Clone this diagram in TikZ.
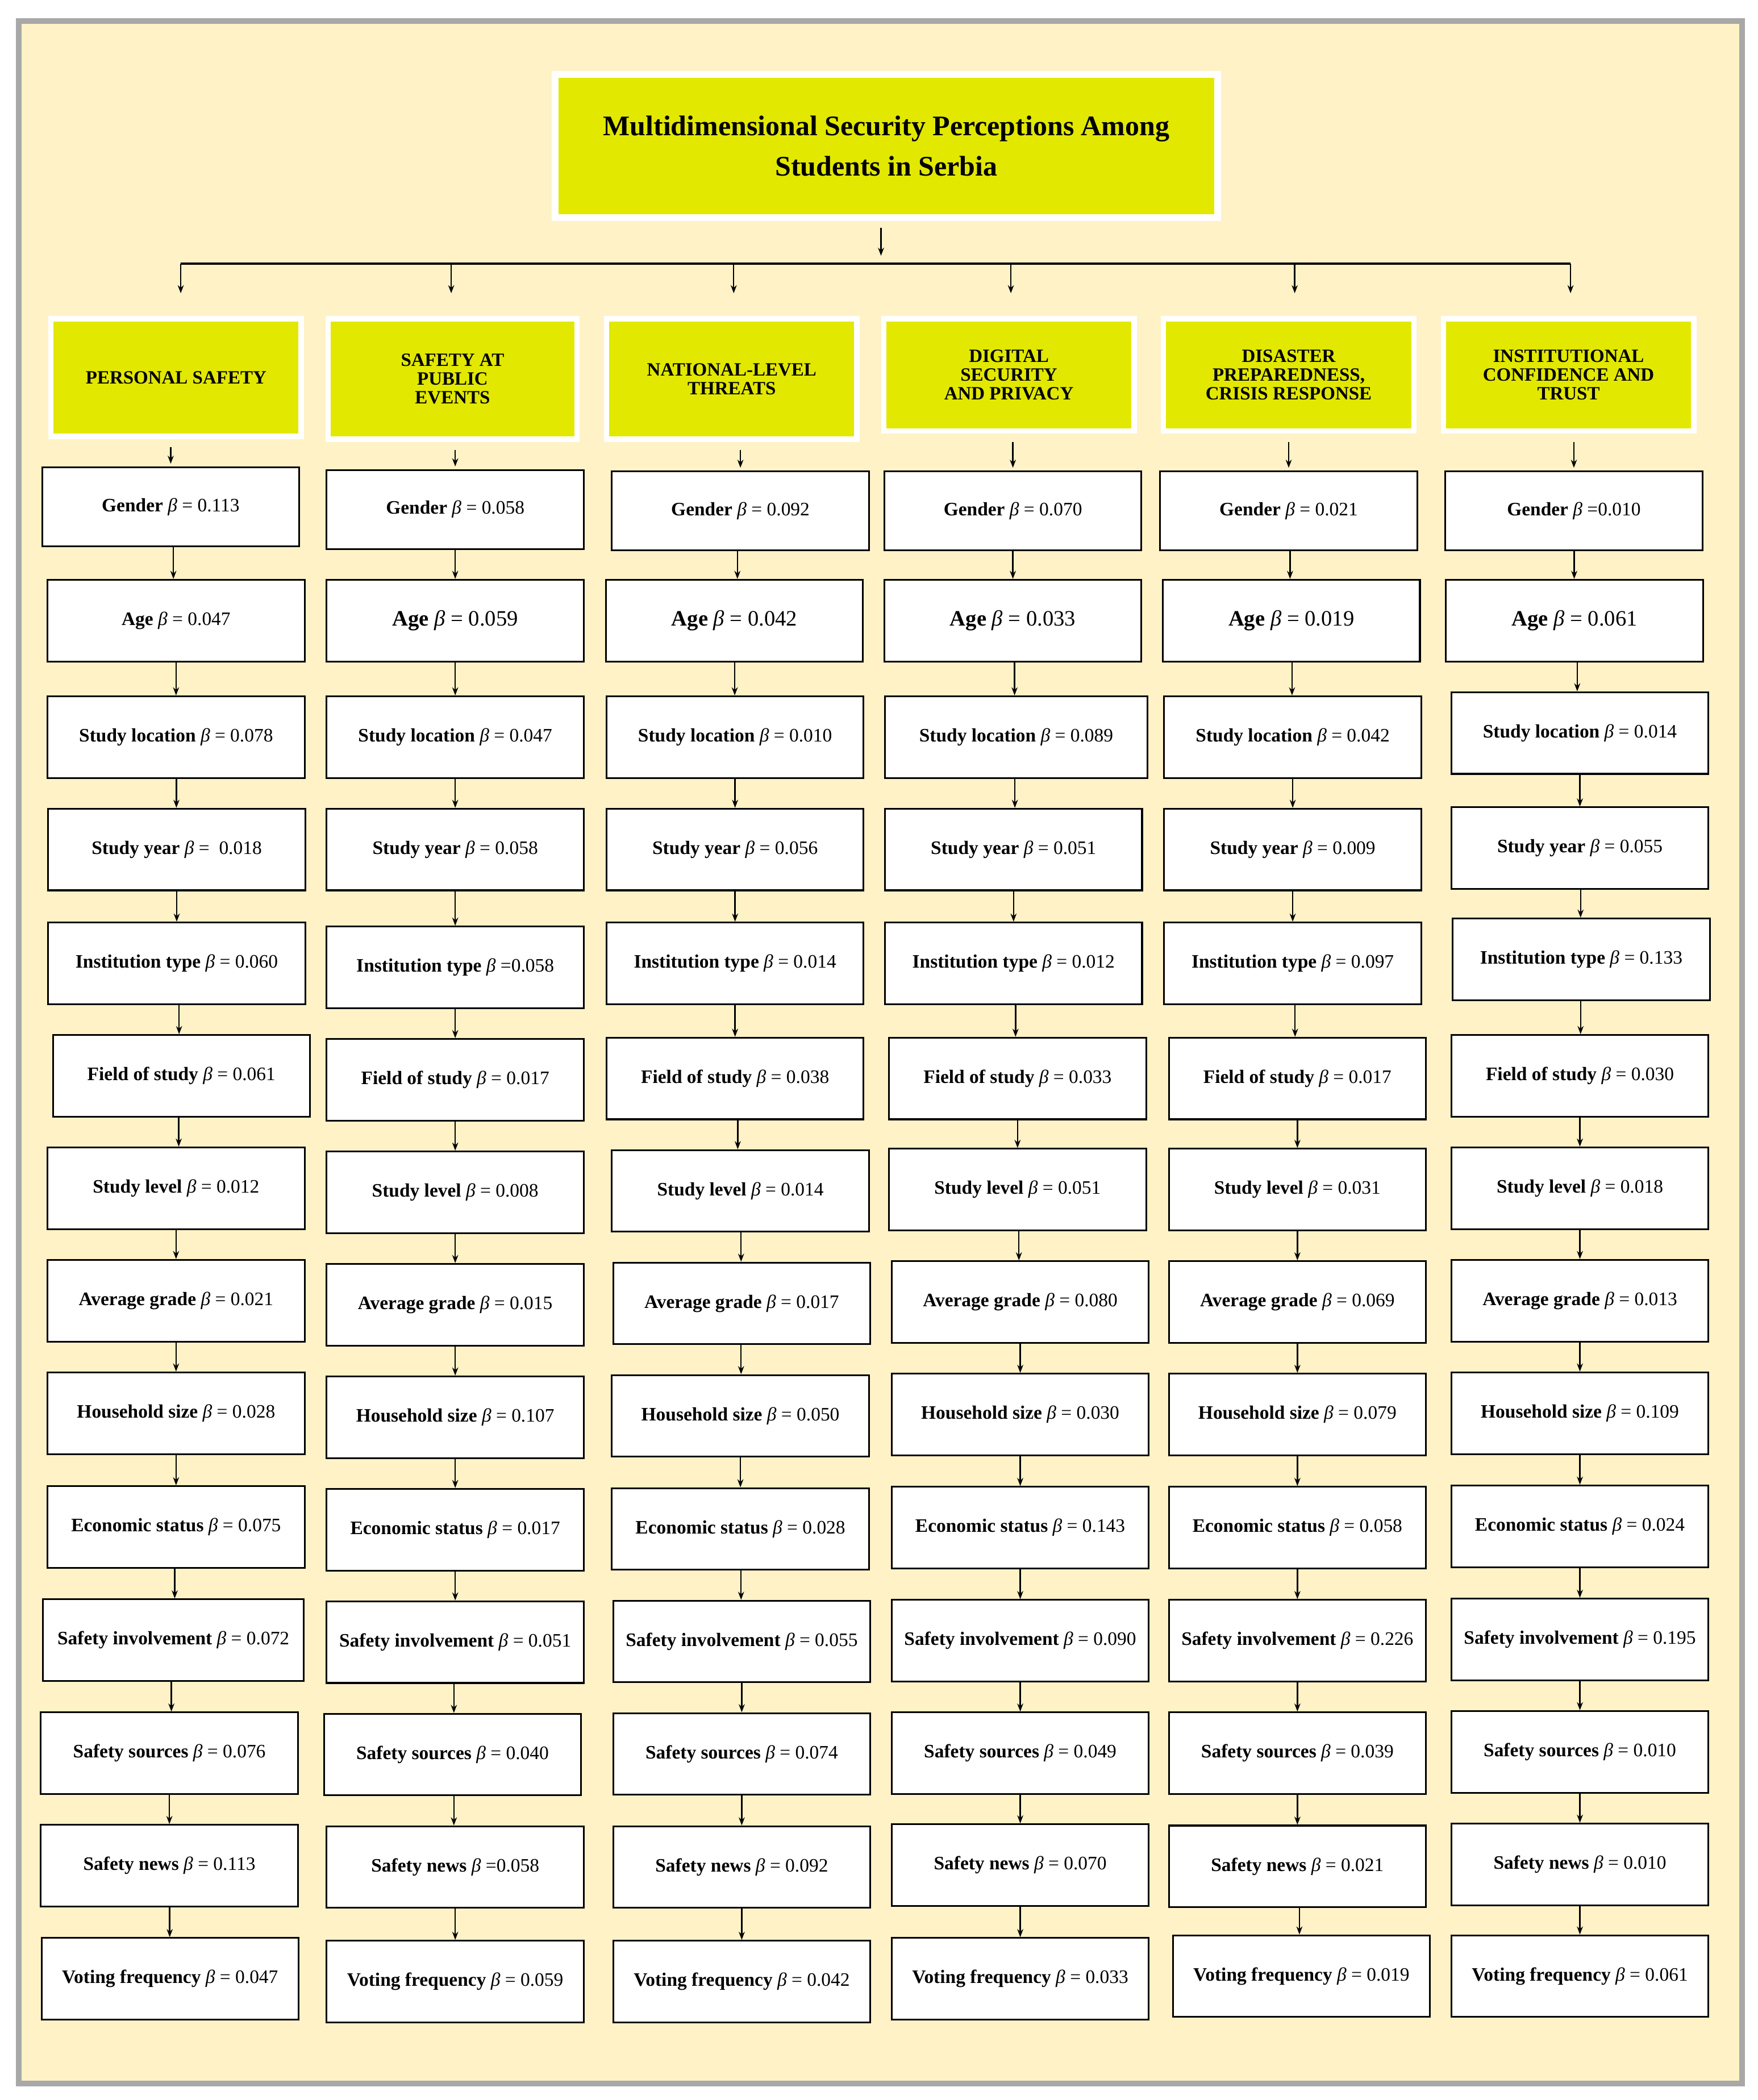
\documentclass[tikz,border=0pt]{standalone}
\usepackage{fontspec}
\setmainfont{Liberation Serif}
\usetikzlibrary{arrows.meta,calc}
\definecolor{cream}{RGB}{255,242,199}
\definecolor{yel}{RGB}{226,232,0}
\definecolor{framegray}{RGB}{168,168,168}
\newcommand\vnode[6][]{\node[valbox,#1] (#2) at (#3,#4) {\textbf{#5} \textit{β} #6};}
\begin{document}
\begin{tikzpicture}[x=1pt,y=-1pt,
  arr/.style={line width=1pt,-{Stealth[length=6pt,width=4.5pt]}},
  valbox/.style={draw=black,line width=1.3pt,fill=white,minimum width=192pt,minimum height=61pt,inner sep=0pt,font=\fontsize{14.2}{16}\selectfont},
  gen/.style={minimum height=59pt},
  bigage/.style={font=\fontsize{16.4}{18}\selectfont},
  hdrbox/.style={draw=white,line width=4pt,fill=yel,minimum width=187pt,align=center,inner sep=0pt,font=\bfseries\fontsize{14}{14}\selectfont},
  titlebox/.style={draw=white,line width=5pt,fill=yel,minimum width=495pt,minimum height=107pt,align=center,inner sep=0pt,font=\bfseries\fontsize{21.2}{30}\selectfont}
  ]
\useasboundingbox (0,0) rectangle (1313,1568.5);
\fill[white] (0,0) rectangle (1313,1568.5);
\draw[draw=framegray,line width=4.2pt,fill=cream] (14,15.7) rectangle (1301.2,1556.3);

% title
\node[titlebox] (title) at (662,109) {Multidimensional Security Perceptions Among\\Students in Serbia};

% headers
\node[hdrbox,minimum height=88pt] (h1) at (131.5,282) {PERSONAL SAFETY};
\node[hdrbox,minimum height=90pt,minimum width=186pt] (h2) at (338,283) {SAFETY AT\\PUBLIC\\EVENTS};
\node[hdrbox,minimum height=90pt] (h3) at (546.5,283) {NATIONAL-LEVEL\\THREATS};
\node[hdrbox,minimum height=84pt] (h4) at (753.5,280) {DIGITAL\\SECURITY\\AND PRIVACY};
\node[hdrbox,minimum height=84pt] (h5) at (962.5,280) {DISASTER\\PREPAREDNESS,\\CRISIS RESPONSE};
\node[hdrbox,minimum height=84pt] (h6) at (1171.5,280) {INSTITUTIONAL\\CONFIDENCE AND\\TRUST};

% column 1
\vnode[gen]{c1-1}{127.5}{378.5}{Gender}{= 0.113}
\vnode{c1-2}{131.5}{463.5}{Age}{= 0.047}
\vnode{c1-3}{131.5}{550.5}{Study location}{= 0.078}
\vnode{c1-4}{132}{634.5}{Study year}{=\ \ 0.018}
\vnode{c1-5}{132}{719.5}{Institution type}{= 0.060}
\vnode{c1-6}{135.5}{803.5}{Field of study}{= 0.061}
\vnode{c1-7}{131.5}{887.5}{Study level}{= 0.012}
\vnode{c1-8}{131.5}{971.5}{Average grade}{= 0.021}
\vnode{c1-9}{131.5}{1055.5}{Household size}{= 0.028}
\vnode{c1-10}{131.5}{1140.5}{Economic status}{= 0.075}
\vnode[minimum width=195pt]{c1-11}{129.5}{1225}{Safety involvement}{= 0.072}
\vnode{c1-12}{126.5}{1309.5}{Safety sources}{= 0.076}
\vnode{c1-13}{126.5}{1393.5}{Safety news}{= 0.113}
\vnode{c1-14}{127}{1478}{Voting frequency}{= 0.047}

% column 2
\vnode[gen]{c2-1}{340}{380.5}{Gender}{= 0.058}
\vnode[bigage]{c2-2}{340}{463.5}{Age}{= 0.059}
\vnode{c2-3}{340}{550.5}{Study location}{= 0.047}
\vnode{c2-4}{340}{634.5}{Study year}{= 0.058}
\vnode{c2-5}{340}{722.5}{Institution type}{=0.058}
\vnode{c2-6}{340}{806.5}{Field of study}{= 0.017}
\vnode{c2-7}{340}{890.5}{Study level}{= 0.008}
\vnode{c2-8}{340}{974.5}{Average grade}{= 0.015}
\vnode{c2-9}{340}{1058.5}{Household size}{= 0.107}
\vnode{c2-10}{340}{1142.5}{Economic status}{= 0.017}
\vnode{c2-11}{340}{1226.5}{Safety involvement}{= 0.051}
\vnode{c2-12}{338}{1310.5}{Safety sources}{= 0.040}
\vnode{c2-13}{340}{1394.5}{Safety news}{=0.058}
\vnode{c2-14}{340}{1480}{Voting frequency}{= 0.059}

% column 3
\vnode[gen]{c3-1}{553}{381.5}{Gender}{= 0.092}
\vnode[bigage]{c3-2}{548.5}{463.5}{Age}{= 0.042}
\vnode{c3-3}{549}{550.5}{Study location}{= 0.010}
\vnode{c3-4}{549}{634.5}{Study year}{= 0.056}
\vnode{c3-5}{549}{719.5}{Institution type}{= 0.014}
\vnode{c3-6}{549}{805.5}{Field of study}{= 0.038}
\vnode{c3-7}{553}{889.5}{Study level}{= 0.014}
\vnode{c3-8}{554}{973.5}{Average grade}{= 0.017}
\vnode{c3-9}{553}{1057.5}{Household size}{= 0.050}
\vnode{c3-10}{553}{1142}{Economic status}{= 0.028}
\vnode{c3-11}{554}{1226}{Safety involvement}{= 0.055}
\vnode{c3-12}{554}{1310}{Safety sources}{= 0.074}
\vnode{c3-13}{554}{1394.5}{Safety news}{= 0.092}
\vnode{c3-14}{554}{1480}{Voting frequency}{= 0.042}

% column 4
\vnode[gen]{c4-1}{756.5}{381.5}{Gender}{= 0.070}
\vnode[bigage]{c4-2}{756.5}{463.5}{Age}{= 0.033}
\vnode[minimum width=196pt]{c4-3}{759}{550.5}{Study location}{= 0.089}
\vnode{c4-4}{757}{634.5}{Study year}{= 0.051}
\vnode{c4-5}{757}{719.5}{Institution type}{= 0.012}
\vnode{c4-6}{760}{805.5}{Field of study}{= 0.033}
\vnode{c4-7}{760}{888.5}{Study level}{= 0.051}
\vnode{c4-8}{762}{972.5}{Average grade}{= 0.080}
\vnode{c4-9}{762}{1056.5}{Household size}{= 0.030}
\vnode{c4-10}{762}{1141}{Economic status}{= 0.143}
\vnode{c4-11}{762}{1225.5}{Safety involvement}{= 0.090}
\vnode{c4-12}{762}{1309.5}{Safety sources}{= 0.049}
\vnode{c4-13}{762}{1393}{Safety news}{= 0.070}
\vnode{c4-14}{762}{1478}{Voting frequency}{= 0.033}

% column 5
\vnode[gen]{c5-1}{962.5}{381.5}{Gender}{= 0.021}
\vnode[bigage]{c5-2}{964.5}{463.5}{Age}{= 0.019}
\vnode{c5-3}{965.5}{550.5}{Study location}{= 0.042}
\vnode{c5-4}{965.5}{634.5}{Study year}{= 0.009}
\vnode{c5-5}{965.5}{719.5}{Institution type}{= 0.097}
\vnode{c5-6}{969}{805.5}{Field of study}{= 0.017}
\vnode{c5-7}{969}{888.5}{Study level}{= 0.031}
\vnode{c5-8}{969}{972.5}{Average grade}{= 0.069}
\vnode{c5-9}{969}{1056.5}{Household size}{= 0.079}
\vnode{c5-10}{969}{1141}{Economic status}{= 0.058}
\vnode{c5-11}{969}{1225.5}{Safety involvement}{= 0.226}
\vnode{c5-12}{969}{1309.5}{Safety sources}{= 0.039}
\vnode{c5-13}{969}{1394}{Safety news}{= 0.021}
\vnode{c5-14}{972}{1476}{Voting frequency}{= 0.019}

% column 6
\vnode[gen]{c6-1}{1175.5}{381.5}{Gender}{=0.010}
\vnode[bigage]{c6-2}{1176}{463.5}{Age}{= 0.061}
\vnode{c6-3}{1180}{547.5}{Study location}{= 0.014}
\vnode{c6-4}{1180}{633.5}{Study year}{= 0.055}
\vnode{c6-5}{1181}{716.5}{Institution type}{= 0.133}
\vnode{c6-6}{1180}{803.5}{Field of study}{= 0.030}
\vnode{c6-7}{1180}{887.5}{Study level}{= 0.018}
\vnode{c6-8}{1180}{971.5}{Average grade}{= 0.013}
\vnode{c6-9}{1180}{1055.5}{Household size}{= 0.109}
\vnode{c6-10}{1180}{1140}{Economic status}{= 0.024}
\vnode{c6-11}{1180}{1224.5}{Safety involvement}{= 0.195}
\vnode{c6-12}{1180}{1308.5}{Safety sources}{= 0.010}
\vnode{c6-13}{1180}{1392.5}{Safety news}{= 0.010}
\vnode{c6-14}{1180}{1476}{Voting frequency}{= 0.061}

% title to bus
\coordinate (bt) at (658,191);
\coordinate (busL) at (135,197);
\coordinate (busR) at (1173,197);
\draw[arr] ([yshift=-5pt]title.south -| bt) -- (bt);
\draw[line width=1.5pt] (busL) -- (busR);
\foreach \i/\x in {1/135,2/337,3/548,4/755,5/967,6/1173}{
  \coordinate (d\i) at (\x,197);
  \draw[arr] (d\i) -- ([yshift=17pt]h\i.north -| d\i);
  \draw[arr] ([yshift=-6pt]h\i.south -| c\i-1.north) -- ([yshift=2pt]c\i-1.north);
}
% chains
\foreach \c in {1,...,6}{
  \foreach \r [evaluate=\r as \n using int(\r+1)] in {1,...,13}{
    \path ($(c\c-\r.south)!.5!(c\c-\n.north)$) coordinate (m);
    \draw[arr] (c\c-\r.south -| m) -- (c\c-\n.north -| m);
  }
}
\end{tikzpicture}
\end{document}
